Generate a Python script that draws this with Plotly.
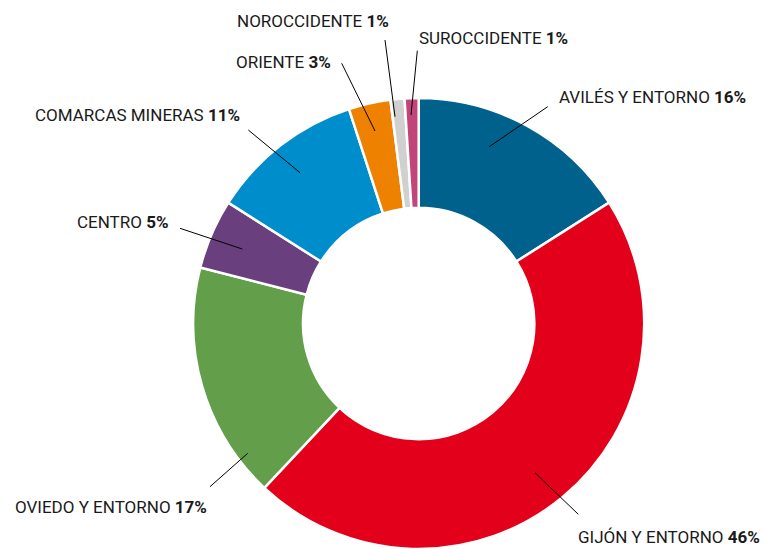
import plotly.graph_objects as go

W, H = 779, 549

regions = ["AVILÉS Y ENTORNO", "GIJÓN Y ENTORNO", "OVIEDO Y ENTORNO", "CENTRO",
           "COMARCAS MINERAS", "ORIENTE", "NOROCCIDENTE", "SUROCCIDENTE"]
shares = [16, 46, 17, 5, 11, 3, 1, 1]
colors = ["#00618C", "#E2001A", "#639F4B", "#6A3F7E", "#008DCB", "#EE8200", "#D0D0D0", "#C2457A"]

# label layout (pixels): anchor x, centre y, anchor side
label_pos = [(557, 97, "left"), (576, 537, "left"), (209, 507, "right"), (170, 222, "right"),
             (242, 115, "right"), (333, 62, "right"), (391, 21, "right"), (417, 38, "left")]
# leader lines (pixels)
leaders = [(547.7, 106.7, 489.3, 146.7), (578.3, 514.3, 535, 472.7), (210, 486.7, 247.7, 453.3),
           (180, 228.3, 242.3, 249), (248.3, 130, 300, 172.7), (341.7, 63.3, 375, 131),
           (385, 40, 395, 116.7), (417.3, 50.7, 411, 115)]

cx, cy, r = 418.7, 323.5, 225.5

fig = go.Figure(go.Pie(
    labels=regions, values=shares, sort=False, direction="clockwise", rotation=0,
    hole=0.513, textinfo="none", hoverinfo="label+percent",
    marker=dict(colors=colors, line=dict(color="white", width=2.5)),
    domain=dict(x=[(cx - r) / W, (cx + r) / W], y=[(H - cy - r) / H, (H - cy + r) / H]),
    showlegend=False,
))

FONT = "Roboto"
annotations = []
for name, val, (x, y, side) in zip(regions, shares, label_pos):
    annotations.append(dict(
        x=x / W, y=1 - y / H, xref="paper", yref="paper", xanchor=side, yanchor="middle",
        text=f"{name} <b>{val}%</b>", showarrow=False,
        font=dict(family=FONT, size=17, color="#1a1a1a"),
    ))
shapes = [dict(type="line", xref="paper", yref="paper", x0=a / W, y0=1 - b / H, x1=c / W, y1=1 - d / H,
               line=dict(color="black", width=1)) for a, b, c, d in leaders]

fig.update_layout(width=W, height=H, margin=dict(l=0, r=0, t=0, b=0),
                  paper_bgcolor="white", plot_bgcolor="white",
                  annotations=annotations, shapes=shapes)
fig.write_html("out.html", config={"displayModeBar": False},
               post_script="document.body.style.margin='0';document.body.style.overflow='hidden';")
